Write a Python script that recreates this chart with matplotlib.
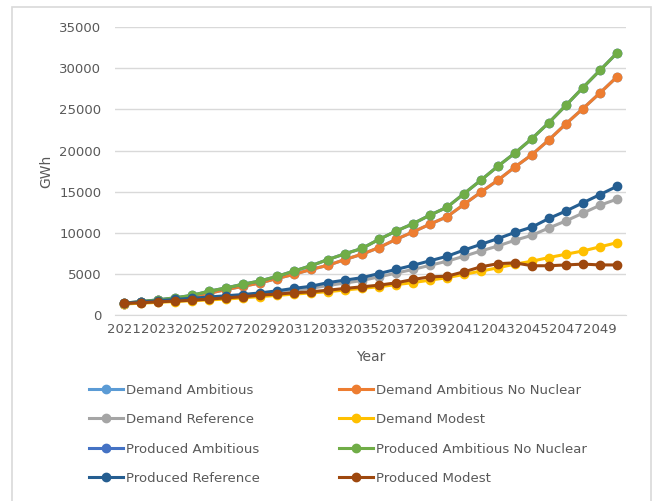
import matplotlib
matplotlib.use("Agg")
import matplotlib.pyplot as plt
from matplotlib.patches import Rectangle

years = list(range(2021, 2051))

# GWh
produced_amb_nn = [1450, 1650, 1850, 2100, 2400, 2900, 3300, 3750, 4150, 4700,
                   5350, 6000, 6750, 7450, 8100, 9200, 10200, 11100, 12150, 13100,
                   14750, 16400, 18100, 19700, 21450, 23400, 25500, 27650, 29750, 31850]
demand_amb_nn = [1400, 1600, 1800, 2000, 2250, 2650, 3100, 3500, 3900, 4450,
                 4950, 5550, 6050, 6750, 7400, 8200, 9200, 10100, 11050, 11950,
                 13450, 14950, 16400, 18000, 19500, 21300, 23250, 25100, 27000, 28950]
produced_ref = [1450, 1600, 1750, 1900, 2050, 2200, 2350, 2500, 2700, 2950,
                3250, 3500, 3950, 4250, 4550, 5050, 5550, 6050, 6600, 7150,
                7900, 8600, 9300, 10050, 10700, 11750, 12650, 13650, 14650, 15650]
demand_ref = [1400, 1550, 1700, 1800, 1950, 2100, 2250, 2400, 2550, 2750,
              3000, 3250, 3600, 3900, 4200, 4650, 5100, 5550, 6050, 6550,
              7150, 7800, 8400, 9100, 9700, 10600, 11450, 12400, 13350, 14100]
demand_modest = [1350, 1450, 1550, 1650, 1750, 1850, 1950, 2100, 2250, 2400,
                 2550, 2700, 2850, 3050, 3250, 3450, 3700, 3950, 4250, 4550,
                 4950, 5350, 5750, 6200, 6550, 7000, 7400, 7800, 8300, 8800]
produced_modest = [1420, 1500, 1620, 1700, 1820, 1940, 2100, 2230, 2430, 2550,
                   2710, 2830, 3030, 3240, 3440, 3640, 3920, 4330, 4650, 4730,
                   5260, 5870, 6250, 6350, 6000, 6000, 6100, 6200, 6100, 6100]
# hidden underneath the other lines in the reference
demand_amb = demand_amb_nn
produced_amb = produced_amb_nn

series = [
    ("Demand Ambitious", demand_amb, "#5B9BD5"),
    ("Demand Ambitious No Nuclear", demand_amb_nn, "#ED7D31"),
    ("Demand Reference", demand_ref, "#A5A5A5"),
    ("Demand Modest", demand_modest, "#FFC000"),
    ("Produced Ambitious", produced_amb, "#4472C4"),
    ("Produced Ambitious No Nuclear", produced_amb_nn, "#70AD47"),
    ("Produced Reference", produced_ref, "#255E91"),
    ("Produced Modest", produced_modest, "#9E480E"),
]

plt.rcParams['font.family'] = ['DejaVu Sans']
fig = plt.figure(figsize=(6.55, 5.01), dpi=100)
ax = fig.add_axes([0.176, 0.371, 0.779, 0.575])

x = list(range(len(years)))
lines = []
for name, vals, col in series:
    l, = ax.plot(x, vals, color=col, lw=2.2, marker='o', ms=6, label=name)
    lines.append(l)

ax.set_xlim(-0.5, len(years) - 0.5)
ax.set_ylim(0, 35000)
ax.set_yticks(range(0, 35001, 5000))
ax.set_xticks(x[::2])
ax.set_xticklabels([str(y) for y in years[::2]])
ax.tick_params(length=0, labelsize=9.5, colors='#595959')
ax.tick_params(axis='y', pad=10)
ax.tick_params(axis='x', pad=6)
ax.grid(axis='y', color='#D9D9D9', lw=1)
ax.set_axisbelow(True)
for s in ['top', 'right', 'left']:
    ax.spines[s].set_visible(False)
ax.spines['bottom'].set_color('#D9D9D9')

ax.set_ylabel("GWh", fontsize=10, color='#595959', labelpad=4)
ax.set_xlabel("Year", fontsize=10, color='#595959', labelpad=10)

# legend reads row by row, so put even entries in column 1, odd in column 2
order = [0, 2, 4, 6, 1, 3, 5, 7]
leg = fig.legend([lines[i] for i in order], [series[i][0] for i in order],
                 loc='upper left', bbox_to_anchor=(0.128, 0.245), ncol=2,
                 frameon=False, fontsize=9.5, handlelength=2.6, handletextpad=0.2,
                 columnspacing=6.0, labelspacing=1.25, borderaxespad=0)
for t in leg.get_texts():
    t.set_color('#595959')

# chart-area border (bottom edge runs off the image in the reference)
fig.patches.append(Rectangle((0.018, -0.02), 0.976, 1.006, transform=fig.transFigure,
                             fill=False, edgecolor='#D9D9D9', lw=1.2))

fig.savefig("out.png", dpi=100)
